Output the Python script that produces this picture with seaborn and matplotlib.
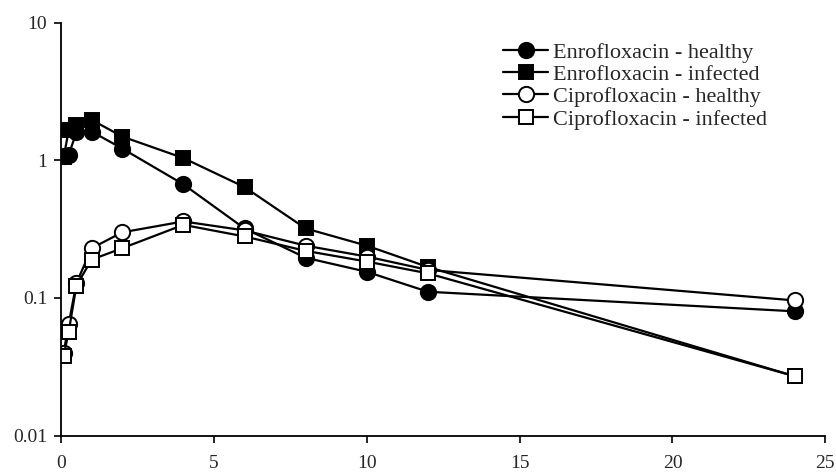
"""
Plasma concentration of enrofloxacin and ciprofloxacin
in healthy and infected animals (log scale).
"""

import pandas as pd
import matplotlib
matplotlib.use("Agg")
import matplotlib.pyplot as plt
import seaborn as sns
from matplotlib.ticker import FixedLocator, FixedFormatter


time_h = [0.083, 0.25, 0.5, 1, 2, 4, 6, 8, 10, 12, 24]

enro_healthy = [1.08, 1.1, 1.6, 1.62, 1.22, 0.67, 0.32, 0.196, 0.155, 0.111, 0.08]
enro_infected = [1.05, 1.66, 1.81, 1.97, 1.49, 1.04, 0.64, 0.32, 0.24, 0.168, 0.027]
cipro_healthy = [0.04, 0.065, 0.128, 0.23, 0.30, 0.36, 0.31, 0.24, 0.20, 0.16, 0.096]
cipro_infected = [0.038, 0.057, 0.123, 0.19, 0.23, 0.34, 0.28, 0.22, 0.184, 0.151, 0.027]

series_labels = [
    "Enrofloxacin - healthy",
    "Enrofloxacin - infected",
    "Ciprofloxacin - healthy",
    "Ciprofloxacin - infected",
]

y_ticks = [0.01, 0.1, 1, 10]
y_tick_labels = ["0.01", "0.1", "1", "10"]
x_ticks = [0, 5, 10, 15, 20, 25]


def build_frame():
    """
    Long-form table of all four curves.
    """
    values = [enro_healthy, enro_infected, cipro_healthy, cipro_infected]
    rows = []
    for label, vals in zip(series_labels, values):
        for t, v in zip(time_h, vals):
            rows.append({"time": t, "conc": v, "series": label})
    return pd.DataFrame(rows)


def concentration_plot(df):
    """
    Draw the four curves on a log axis.
    """
    sns.set_style("white")
    plt.rcParams["font.family"] = ["Liberation Serif", "DejaVu Serif"]

    fig = plt.figure(figsize=(8.37, 4.75), dpi=100)
    ax = fig.add_axes([0.073, 0.083, 0.913, 0.869])

    styles = {
        "Enrofloxacin - healthy": ("o", "black", 11),
        "Enrofloxacin - infected": ("s", "black", 10),
        "Ciprofloxacin - healthy": ("o", "white", 11),
        "Ciprofloxacin - infected": ("s", "white", 10),
    }

    for label in series_labels:
        marker, face, size = styles[label]
        sns.lineplot(
            data=df[df["series"] == label],
            x="time",
            y="conc",
            ax=ax,
            color="black",
            linewidth=1.6,
            marker=marker,
            markersize=size,
            markerfacecolor=face,
            markeredgecolor="black",
            markeredgewidth=1.4,
            label=label,
        )

    ax.set_yscale("log")
    ax.set_ylim(0.01, 10)
    ax.set_xlim(0, 25)

    ax.yaxis.set_major_locator(FixedLocator(y_ticks))
    ax.yaxis.set_major_formatter(FixedFormatter(y_tick_labels))
    ax.yaxis.set_minor_locator(FixedLocator([]))
    ax.set_xticks(x_ticks)
    ax.set_xticklabels([str(v) for v in x_ticks])

    ax.set_xlabel("")
    ax.set_ylabel("")

    for side in ["top", "right"]:
        ax.spines[side].set_visible(False)
    for side in ["left", "bottom"]:
        ax.spines[side].set_color("black")
        ax.spines[side].set_linewidth(1.3)

    ax.tick_params(axis="both", which="major", direction="out", length=5,
                   width=1.2, color="black", labelsize=14, pad=5,
                   left=True, bottom=True)
    ax.tick_params(axis="x", pad=9)

    ax.legend(
        loc="upper left",
        bbox_to_anchor=(0.567, 0.975),
        frameon=False,
        fontsize=16,
        handlelength=2.0,
        handletextpad=0.25,
        labelspacing=0.08,
        borderaxespad=0,
    )

    fig.savefig("out.png", dpi=100)


if __name__ == "__main__":

    df = build_frame()

    concentration_plot(df)
